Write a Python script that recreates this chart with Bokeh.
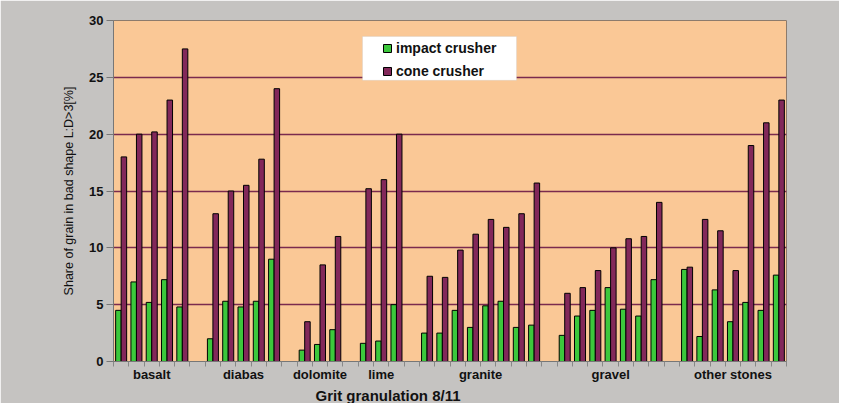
from bokeh.plotting import figure
from bokeh.models import (ColumnDataSource, Range1d, FixedTicker, Legend, LegendItem,
                          BoxAnnotation, Title)
from bokeh.embed import file_html
from bokeh.resources import INLINE

# ---------------- data ----------------
groups = ["basalt", "diabas", "dolomite", "lime", "granite", "gravel", "other stones"]

impact_basalt = [4.5, 7.0, 5.2, 7.2, 4.8]
impact_diabas = [2.0, 5.3, 4.8, 5.3, 9.0]
impact_dolomite = [1.0, 1.5, 2.8]
impact_lime = [1.6, 1.8, 5.0]
impact_granite = [2.5, 2.5, 4.5, 3.0, 4.9, 5.3, 3.0, 3.2]
impact_gravel = [2.3, 4.0, 4.5, 6.5, 4.6, 4.0, 7.2]
impact_other = [8.1, 2.2, 6.3, 3.5, 5.2, 4.5, 7.6]

cone_basalt = [18.0, 20.0, 20.2, 23.0, 27.5]
cone_diabas = [13.0, 15.0, 15.5, 17.8, 24.0]
cone_dolomite = [3.5, 8.5, 11.0]
cone_lime = [15.2, 16.0, 20.0]
cone_granite = [7.5, 7.4, 9.8, 11.2, 12.5, 11.8, 13.0, 15.7]
cone_gravel = [6.0, 6.5, 8.0, 10.0, 10.8, 11.0, 14.0]
cone_other = [8.3, 12.5, 11.5, 8.0, 19.0, 21.0, 23.0]

y_ticks = [0, 5, 10, 15, 20, 25, 30]

impact_all = [impact_basalt, impact_diabas, impact_dolomite, impact_lime,
              impact_granite, impact_gravel, impact_other]
cone_all = [cone_basalt, cone_diabas, cone_dolomite, cone_lime,
            cone_granite, cone_gravel, cone_other]

# ---------------- slot layout (one empty slot between groups) ----------------
slot_x, imp_vals, cone_vals, centers = [], [], [], []
s = 0
for gi, (iv, cv) in enumerate(zip(impact_all, cone_all)):
    start = s
    for a, b in zip(iv, cv):
        slot_x.append(s)
        imp_vals.append(a)
        cone_vals.append(b)
        s += 1
    centers.append((start + s) / 2.0)
    if gi < len(groups) - 1:
        s += 1
n_slots = s

bw = 0.36
src = ColumnDataSource(dict(
    xi=[x + 0.5 - bw / 2 for x in slot_x],
    xc=[x + 0.5 + bw / 2 for x in slot_x],
    imp=imp_vals, cone=cone_vals))

p = figure(width=839, height=403, output_backend="svg", toolbar_location=None,
           x_range=Range1d(0, n_slots), y_range=Range1d(0, 30),
           min_border_left=113, min_border_right=53, min_border_top=20, min_border_bottom=0)

p.border_fill_color = "#C5C3C1"
p.background_fill_color = "#FAC896"
p.outline_line_color = "#8C7B6C"
p.outline_line_width = 1

green = "#3CC83C"
purple = "#82285A"

r_imp = p.vbar(x="xi", top="imp", bottom=0, width=bw, source=src,
               fill_color=green, line_color="black", line_width=1)
r_cone = p.vbar(x="xc", top="cone", bottom=0, width=bw, source=src,
                fill_color=purple, line_color="black", line_width=1)

# grid
p.xgrid.visible = False
p.ygrid.ticker = FixedTicker(ticks=y_ticks[1:-1])
p.ygrid.grid_line_color = "#7A2A4E"
p.ygrid.grid_line_width = 1.5

# y axis
p.yaxis.ticker = FixedTicker(ticks=y_ticks)
p.yaxis.axis_label = "Share of grain in bad shape L:D>3[%]"
p.yaxis.axis_label_text_font = "Liberation Sans"
p.yaxis.axis_label_text_font_style = "normal"
p.yaxis.axis_label_text_font_size = "12.5px"
p.yaxis.axis_label_text_color = "#111111"
p.yaxis.axis_label_standoff = 10
p.yaxis.major_label_text_font = "Liberation Sans"
p.yaxis.major_label_text_font_style = "bold"
p.yaxis.major_label_text_font_size = "13px"
p.yaxis.major_label_text_color = "#111111"
p.yaxis.major_label_standoff = 3
p.yaxis.major_tick_out = 7
p.yaxis.major_tick_in = 0
p.yaxis.minor_tick_line_color = None
p.yaxis.axis_line_color = "#777777"
p.yaxis.major_tick_line_color = "#777777"

# x axis: group labels at centers, slot boundaries as minor ticks
p.xaxis.ticker = FixedTicker(ticks=centers, minor_ticks=list(range(n_slots + 1)))
p.xaxis.major_label_overrides = {c: g for c, g in zip(centers, groups)}
p.xaxis.major_tick_line_color = None
p.xaxis.major_tick_out = 0
p.xaxis.major_tick_in = 0
p.xaxis.minor_tick_out = 5
p.xaxis.minor_tick_in = 0
p.xaxis.minor_tick_line_color = "#888888"
p.xaxis.axis_line_color = "#777777"
p.xaxis.major_label_standoff = 0
p.xaxis.major_label_text_font = "Liberation Sans"
p.xaxis.major_label_text_font_style = "bold"
p.xaxis.major_label_text_font_size = "13px"
p.xaxis.major_label_text_color = "#111111"

# x axis title as a title panel below the axis
p.add_layout(Title(text="Grit granulation 8/11", align="left", offset=202, standoff=0,
                   text_font="Liberation Sans", text_font_style="bold",
                   text_font_size="15px", text_color="#111111"), "below")

# legend box + legend (frame height ~342 px)
p.add_layout(BoxAnnotation(left=16.28, right=26.35, bottom=24.74, top=28.6,
                           fill_color="white", fill_alpha=1.0,
                           line_color="#C8C8C8", line_width=1))
legend = Legend(items=[LegendItem(label="impact crusher", renderers=[r_imp]),
                       LegendItem(label="cone crusher", renderers=[r_cone])],
                location=(269, 282), padding=0, margin=0, spacing=7,
                glyph_width=10, glyph_height=10, label_height=10, label_standoff=4,
                background_fill_alpha=0, border_line_color=None,
                label_text_font="Liberation Sans", label_text_font_style="bold",
                label_text_font_size="14px", label_text_color="#111111")
p.add_layout(legend, "center")

open("out.html", "w").write(file_html(p, INLINE))
